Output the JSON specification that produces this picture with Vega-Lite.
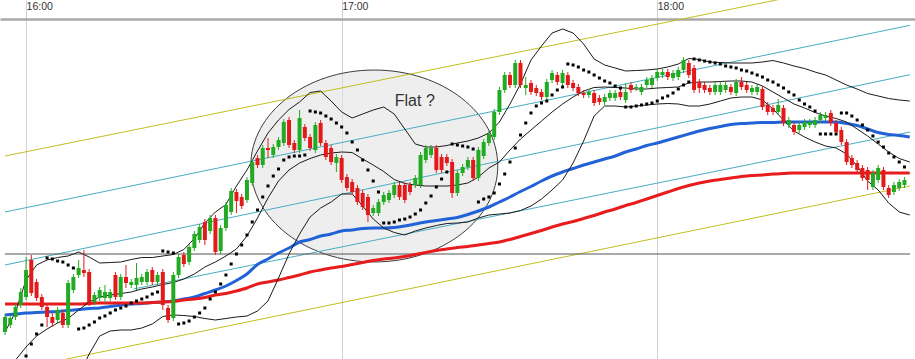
{
  "$schema": "https://vega.github.io/schema/vega-lite/v6.json",
  "width": 915,
  "height": 340,
  "autosize": {"type": "none"},
  "padding": {"left": 0, "top": 19, "right": 0, "bottom": 0},
  "background": "white",
  "config": {"view": {"stroke": null}, "font": "Liberation Sans"},
  "datasets": {
    "candles": [
      {"t":-4,"o":68,"h":86,"l":65,"c":83},
      {"t":-3,"o":75,"h":85,"l":72,"c":82},
      {"t":-2,"o":83,"h":96,"l":80,"c":93},
      {"t":-1,"o":95,"h":112,"l":92,"c":108},
      {"t":0,"o":103,"h":143,"l":100,"c":130,"s":44},
      {"t":1,"o":140,"h":145,"l":104,"c":107,"s":56},
      {"t":2,"o":118,"h":121,"l":99,"c":102,"s":66},
      {"t":3,"o":103,"h":106,"l":90,"c":93,"s":75},
      {"t":4,"o":93,"h":96,"l":73,"c":83,"s":142},
      {"t":5,"o":83,"h":87,"l":73,"c":77,"s":141},
      {"t":6,"o":80,"h":93,"l":77,"c":90,"s":139},
      {"t":7,"o":87,"h":90,"l":72,"c":75,"s":138},
      {"t":8,"o":75,"h":120,"l":72,"c":117,"s":135},
      {"t":9,"o":110,"h":126,"l":107,"c":123,"s":132},
      {"t":10,"o":125,"h":140,"l":122,"c":132,"s":71},
      {"t":11,"o":130,"h":150,"l":123,"c":127,"s":72},
      {"t":12,"o":128,"h":131,"l":94,"c":97,"s":75},
      {"t":13,"o":98,"h":108,"l":95,"c":105,"s":78},
      {"t":14,"o":102,"h":113,"l":99,"c":110,"s":82},
      {"t":15,"o":102,"h":115,"l":97,"c":108,"s":84},
      {"t":16,"o":102,"h":111,"l":99,"c":108,"s":87},
      {"t":17,"o":125,"h":128,"l":100,"c":103,"s":90},
      {"t":18,"o":103,"h":126,"l":100,"c":123,"s":92},
      {"t":19,"o":123,"h":135,"l":112,"c":117,"s":94},
      {"t":20,"o":115,"h":121,"l":112,"c":118,"s":97},
      {"t":21,"o":115,"h":137,"l":110,"c":122,"s":99},
      {"t":22,"o":118,"h":126,"l":115,"c":123,"s":101},
      {"t":23,"o":118,"h":131,"l":115,"c":128,"s":103},
      {"t":24,"o":130,"h":133,"l":115,"c":118,"s":106},
      {"t":25,"o":118,"h":128,"l":115,"c":125,"s":108},
      {"t":26,"o":128,"h":131,"l":90,"c":95,"s":149},
      {"t":27,"o":92,"h":95,"l":77,"c":80,"s":148},
      {"t":28,"o":82,"h":128,"l":79,"c":125,"s":147},
      {"t":29,"o":125,"h":146,"l":122,"c":143,"s":76},
      {"t":30,"o":145,"h":148,"l":133,"c":136,"s":77},
      {"t":31,"o":138,"h":156,"l":135,"c":153,"s":79},
      {"t":32,"o":152,"h":169,"l":149,"c":166,"s":83},
      {"t":33,"o":160,"h":176,"l":157,"c":173,"s":87},
      {"t":34,"o":178,"h":181,"l":155,"c":160,"s":92},
      {"t":35,"o":169,"h":185,"l":166,"c":182,"s":101},
      {"t":36,"o":182,"h":185,"l":145,"c":148,"s":108},
      {"t":37,"o":149,"h":175,"l":146,"c":172,"s":116},
      {"t":38,"o":172,"h":198,"l":169,"c":195,"s":125},
      {"t":39,"o":188,"h":212,"l":185,"c":209,"s":136},
      {"t":40,"o":208,"h":211,"l":187,"c":199,"s":146},
      {"t":41,"o":203,"h":206,"l":191,"c":194,"s":155},
      {"t":42,"o":200,"h":223,"l":197,"c":220,"s":165},
      {"t":43,"o":217,"h":241,"l":214,"c":238,"s":178},
      {"t":44,"o":242,"h":245,"l":232,"c":235,"s":190},
      {"t":45,"o":235,"h":255,"l":232,"c":252,"s":203},
      {"t":46,"o":252,"h":262,"l":242,"c":250,"s":214},
      {"t":47,"o":245,"h":256,"l":242,"c":253,"s":224},
      {"t":48,"o":253,"h":263,"l":250,"c":260,"s":231},
      {"t":49,"o":257,"h":281,"l":254,"c":278,"s":240},
      {"t":50,"o":280,"h":283,"l":252,"c":255,"s":243},
      {"t":51,"o":257,"h":260,"l":247,"c":250,"s":244},
      {"t":52,"o":250,"h":290,"l":247,"c":282,"s":244},
      {"t":53,"o":273,"h":276,"l":259,"c":262,"s":245},
      {"t":54,"o":263,"h":266,"l":249,"c":252,"s":289},
      {"t":55,"o":250,"h":278,"l":247,"c":275,"s":288},
      {"t":56,"o":277,"h":280,"l":254,"c":257,"s":287},
      {"t":57,"o":257,"h":260,"l":240,"c":243,"s":284},
      {"t":58,"o":252,"h":255,"l":235,"c":238,"s":281},
      {"t":59,"o":237,"h":246,"l":228,"c":243,"s":277},
      {"t":60,"o":242,"h":245,"l":217,"c":220,"s":273},
      {"t":61,"o":223,"h":226,"l":209,"c":212,"s":267},
      {"t":62,"o":218,"h":221,"l":205,"c":208,"s":258},
      {"t":63,"o":212,"h":215,"l":195,"c":198,"s":250},
      {"t":64,"o":207,"h":210,"l":190,"c":193,"s":240},
      {"t":65,"o":203,"h":206,"l":178,"c":185,"s":230},
      {"t":66,"o":187,"h":195,"l":184,"c":192,"s":219},
      {"t":67,"o":187,"h":201,"l":184,"c":198,"s":208},
      {"t":68,"o":198,"h":208,"l":195,"c":205,"s":177},
      {"t":69,"o":200,"h":210,"l":197,"c":207,"s":177},
      {"t":70,"o":205,"h":218,"l":202,"c":215,"s":178},
      {"t":71,"o":215,"h":218,"l":200,"c":203,"s":180},
      {"t":72,"o":215,"h":218,"l":197,"c":200,"s":181},
      {"t":73,"o":215,"h":218,"l":205,"c":208,"s":183},
      {"t":74,"o":215,"h":225,"l":212,"c":222,"s":186},
      {"t":75,"o":215,"h":248,"l":212,"c":245,"s":190},
      {"t":76,"o":240,"h":255,"l":237,"c":252,"s":197},
      {"t":77,"o":245,"h":255,"l":242,"c":252,"s":204},
      {"t":78,"o":252,"h":255,"l":227,"c":230,"s":213},
      {"t":79,"o":243,"h":246,"l":227,"c":230,"s":221},
      {"t":80,"o":243,"h":246,"l":234,"c":237,"s":228},
      {"t":81,"o":238,"h":241,"l":202,"c":207,"s":256},
      {"t":82,"o":207,"h":230,"l":204,"c":227,"s":255},
      {"t":83,"o":227,"h":236,"l":224,"c":233,"s":254},
      {"t":84,"o":233,"h":243,"l":230,"c":240,"s":253},
      {"t":85,"o":240,"h":243,"l":219,"c":222,"s":251},
      {"t":86,"o":222,"h":253,"l":219,"c":250,"s":198},
      {"t":87,"o":244,"h":261,"l":241,"c":258,"s":201},
      {"t":88,"o":257,"h":269,"l":254,"c":266,"s":203},
      {"t":89,"o":263,"h":291,"l":260,"c":288,"s":207},
      {"t":90,"o":288,"h":313,"l":285,"c":310,"s":216},
      {"t":91,"o":310,"h":328,"l":307,"c":325,"s":226},
      {"t":92,"o":325,"h":328,"l":312,"c":315,"s":238},
      {"t":93,"o":315,"h":340,"l":312,"c":337,"s":252},
      {"t":94,"o":337,"h":340,"l":312,"c":315,"s":265},
      {"t":95,"o":312,"h":323,"l":305,"c":315,"s":277},
      {"t":96,"o":317,"h":320,"l":305,"c":308,"s":287},
      {"t":97,"o":312,"h":315,"l":304,"c":307,"s":294},
      {"t":98,"o":308,"h":311,"l":300,"c":303,"s":297},
      {"t":99,"o":303,"h":321,"l":300,"c":318,"s":299},
      {"t":100,"o":320,"h":330,"l":317,"c":327,"s":305},
      {"t":101,"o":325,"h":328,"l":315,"c":318,"s":310},
      {"t":102,"o":317,"h":330,"l":314,"c":327,"s":313},
      {"t":103,"o":325,"h":328,"l":312,"c":315,"s":336},
      {"t":104,"o":317,"h":320,"l":309,"c":312,"s":335},
      {"t":105,"o":313,"h":316,"l":304,"c":307,"s":333},
      {"t":106,"o":307,"h":310,"l":302,"c":305,"s":330},
      {"t":107,"o":305,"h":311,"l":302,"c":308,"s":328},
      {"t":108,"o":307,"h":310,"l":294,"c":297,"s":325},
      {"t":109,"o":302,"h":305,"l":295,"c":298,"s":322},
      {"t":110,"o":298,"h":306,"l":295,"c":303,"s":319},
      {"t":111,"o":302,"h":310,"l":299,"c":307,"s":317},
      {"t":112,"o":302,"h":310,"l":299,"c":307,"s":314},
      {"t":113,"o":308,"h":311,"l":300,"c":303,"s":312},
      {"t":114,"o":300,"h":317,"l":297,"c":308,"s":293},
      {"t":115,"o":315,"h":318,"l":307,"c":310,"s":293},
      {"t":116,"o":312,"h":316,"l":309,"c":313,"s":294},
      {"t":117,"o":308,"h":316,"l":305,"c":313,"s":295},
      {"t":118,"o":315,"h":323,"l":312,"c":320,"s":296},
      {"t":119,"o":315,"h":325,"l":312,"c":322,"s":297},
      {"t":120,"o":322,"h":331,"l":319,"c":328,"s":299},
      {"t":121,"o":325,"h":331,"l":322,"c":328,"s":302},
      {"t":122,"o":328,"h":331,"l":320,"c":323,"s":304},
      {"t":123,"o":322,"h":330,"l":319,"c":327,"s":307},
      {"t":124,"o":323,"h":333,"l":320,"c":330,"s":311},
      {"t":125,"o":330,"h":343,"l":327,"c":340,"s":315},
      {"t":126,"o":337,"h":340,"l":322,"c":325,"s":318},
      {"t":127,"o":332,"h":335,"l":307,"c":310,"s":341},
      {"t":128,"o":318,"h":321,"l":307,"c":312,"s":340},
      {"t":129,"o":315,"h":318,"l":307,"c":310,"s":339},
      {"t":130,"o":312,"h":315,"l":305,"c":308,"s":338},
      {"t":131,"o":308,"h":318,"l":305,"c":315,"s":337},
      {"t":132,"o":308,"h":318,"l":305,"c":315,"s":336},
      {"t":133,"o":310,"h":318,"l":307,"c":315,"s":334},
      {"t":134,"o":313,"h":316,"l":305,"c":308,"s":333},
      {"t":135,"o":307,"h":321,"l":304,"c":318,"s":332},
      {"t":136,"o":318,"h":323,"l":310,"c":313,"s":330},
      {"t":137,"o":315,"h":318,"l":307,"c":310,"s":329},
      {"t":138,"o":308,"h":315,"l":305,"c":312,"s":327},
      {"t":139,"o":308,"h":316,"l":305,"c":313,"s":325},
      {"t":140,"o":311,"h":314,"l":290,"c":293,"s":323},
      {"t":141,"o":295,"h":298,"l":285,"c":288,"s":320},
      {"t":142,"o":292,"h":295,"l":285,"c":288,"s":318},
      {"t":143,"o":288,"h":301,"l":285,"c":295,"s":315},
      {"t":144,"o":292,"h":295,"l":274,"c":277,"s":312},
      {"t":145,"o":275,"h":283,"l":272,"c":280,"s":308},
      {"t":146,"o":275,"h":278,"l":265,"c":268,"s":305},
      {"t":147,"o":270,"h":278,"l":267,"c":275,"s":300},
      {"t":148,"o":273,"h":281,"l":270,"c":278,"s":296},
      {"t":149,"o":275,"h":281,"l":272,"c":278,"s":293},
      {"t":150,"o":275,"h":283,"l":272,"c":280,"s":289},
      {"t":151,"o":280,"h":288,"l":277,"c":285,"s":266},
      {"t":152,"o":282,"h":288,"l":279,"c":285,"s":266},
      {"t":153,"o":287,"h":290,"l":274,"c":277,"s":266},
      {"t":154,"o":277,"h":280,"l":265,"c":268,"s":266},
      {"t":155,"o":270,"h":273,"l":255,"c":258,"s":287},
      {"t":156,"o":258,"h":261,"l":235,"c":238,"s":287},
      {"t":157,"o":242,"h":245,"l":232,"c":235,"s":284},
      {"t":158,"o":237,"h":240,"l":227,"c":230,"s":280},
      {"t":159,"o":232,"h":235,"l":219,"c":222,"s":275},
      {"t":160,"o":230,"h":233,"l":210,"c":220,"s":270},
      {"t":161,"o":213,"h":230,"l":210,"c":227,"s":264},
      {"t":162,"o":220,"h":235,"l":217,"c":232,"s":258},
      {"t":163,"o":230,"h":233,"l":210,"c":213,"s":253},
      {"t":164,"o":212,"h":215,"l":202,"c":205,"s":247},
      {"t":165,"o":208,"h":218,"l":205,"c":215,"s":243},
      {"t":166,"o":212,"h":221,"l":209,"c":218,"s":238},
      {"t":167,"o":215,"h":223,"l":212,"c":220,"s":233}
    ],
    "lines": [
      {"t":-4,"u":68,"m":32,"b":85,"r":96},
      {"t":-2,"u":88,"m":40,"b":86,"r":96},
      {"t":0,"u":120,"m":53,"b":87,"r":96},
      {"t":2,"u":135,"m":64,"b":87.5,"r":96},
      {"t":4,"u":140,"m":71,"b":88,"r":96},
      {"t":6,"u":142.5,"m":77,"b":88.5,"r":96},
      {"t":8,"u":144,"m":81.5,"b":89.5,"r":96},
      {"t":10,"u":148,"m":90,"lo":24,"b":90.5,"r":96},
      {"t":12,"u":143,"m":98,"lo":46,"b":91.5,"r":96.5},
      {"t":14,"u":137,"m":103,"lo":64,"b":92,"r":97},
      {"t":16,"u":137.5,"m":105,"lo":69,"b":93.5,"r":97},
      {"t":18,"u":138,"m":106.5,"lo":70,"b":95,"r":97},
      {"t":20,"u":140.5,"m":108,"lo":70,"b":96,"r":97},
      {"t":22,"u":142.5,"m":111,"lo":72,"b":96.5,"r":97},
      {"t":24,"u":142.5,"m":113,"lo":76,"b":97.5,"r":97.5},
      {"t":26,"u":144,"m":115.5,"lo":83.5,"b":98,"r":98},
      {"t":28,"u":145.5,"m":117.5,"lo":85,"b":99,"r":98.5},
      {"t":30,"u":150.5,"m":121,"lo":84.5,"b":101,"r":100},
      {"t":32,"u":161.5,"m":126,"lo":83.5,"b":103,"r":101},
      {"t":34,"u":177,"m":133,"lo":81.5,"b":106.5,"r":102.5},
      {"t":36,"u":188,"m":138,"lo":80,"b":110,"r":105},
      {"t":38,"u":195.5,"m":144,"lo":81.5,"b":114,"r":106.5},
      {"t":40,"u":214,"m":151,"lo":83,"b":119.5,"r":109},
      {"t":42,"u":230,"m":164,"lo":84,"b":126,"r":112},
      {"t":44,"u":249,"m":182,"lo":89,"b":135.5,"r":116},
      {"t":46,"u":267,"m":202,"lo":99,"b":141,"r":118},
      {"t":48,"u":280,"m":219,"lo":122,"b":147,"r":120},
      {"t":50,"u":290.5,"m":230,"lo":146,"b":152,"r":122.5},
      {"t":52,"u":298,"m":237,"lo":166,"b":158,"r":125},
      {"t":54,"u":307.5,"m":241.5,"lo":183,"b":160.5,"r":128},
      {"t":56,"u":309,"m":245,"lo":192,"b":164,"r":130},
      {"t":58,"u":299,"m":247,"lo":198,"b":166,"r":132},
      {"t":60,"u":288,"m":248,"lo":206,"b":169,"r":133.5},
      {"t":62,"u":282,"m":247.5,"lo":206,"b":170,"r":135.5},
      {"t":64,"u":286,"m":241,"lo":194,"b":171.5,"r":137.5},
      {"t":66,"u":290,"m":235,"lo":181,"b":172,"r":139.5},
      {"t":68,"u":293,"m":228.5,"lo":172,"b":172,"r":141},
      {"t":70,"u":286,"m":220.5,"lo":167.5,"b":172.5,"r":142},
      {"t":72,"u":271,"m":216.5,"lo":165,"b":174,"r":143.5},
      {"t":74,"u":256,"m":215,"lo":169,"b":176,"r":145.5},
      {"t":76,"u":253,"m":214,"lo":172,"b":178,"r":147.5},
      {"t":78,"u":253,"m":214,"lo":174.5,"b":179.5,"r":149.5},
      {"t":80,"u":254.5,"m":214,"lo":176.5,"b":181,"r":151},
      {"t":82,"u":257,"m":215,"lo":177,"b":182.5,"r":152.5},
      {"t":84,"u":259,"m":217,"lo":178,"b":185.5,"r":153.5},
      {"t":86,"u":262,"m":223,"lo":182,"b":189,"r":155},
      {"t":88,"u":267,"m":232,"lo":185,"b":193,"r":156.5},
      {"t":90,"u":278,"m":238,"lo":186,"b":198,"r":158},
      {"t":92,"u":296,"m":250,"lo":187,"b":203,"r":160.5},
      {"t":94,"u":316,"m":261,"lo":189.5,"b":208.5,"r":163.5},
      {"t":96,"u":340,"m":270,"lo":194,"b":213.5,"r":166.5},
      {"t":98,"u":354,"m":279,"lo":201,"b":219,"r":169.5},
      {"t":100,"u":367,"m":288,"lo":210,"b":224,"r":173},
      {"t":102,"u":371,"m":296,"lo":220,"b":228,"r":176},
      {"t":104,"u":367,"m":303,"lo":237,"b":231.5,"r":178.5},
      {"t":106,"u":356,"m":309,"lo":259,"b":235,"r":181.5},
      {"t":108,"u":341,"m":312.5,"lo":284,"b":238,"r":184.5},
      {"t":110,"u":335,"m":313,"lo":294,"b":241,"r":188},
      {"t":112,"u":332,"m":312.5,"lo":294,"b":244,"r":191},
      {"t":114,"u":329,"m":312,"lo":293,"b":248,"r":194.5},
      {"t":116,"u":329.5,"m":311,"lo":294,"b":251,"r":197.5},
      {"t":118,"u":330,"m":311,"lo":295,"b":254.5,"r":201},
      {"t":120,"u":331,"m":312,"lo":296,"b":257,"r":204.5},
      {"t":122,"u":333,"m":312.5,"lo":296.5,"b":260,"r":208},
      {"t":124,"u":336,"m":313,"lo":296,"b":263,"r":211.5},
      {"t":126,"u":341.5,"m":317,"lo":294,"b":266,"r":214.5},
      {"t":128,"u":340.5,"m":318,"lo":294,"b":269,"r":217},
      {"t":130,"u":338,"m":318,"lo":296,"b":271.5,"r":219},
      {"t":132,"u":337.5,"m":318.5,"lo":299,"b":273.5,"r":220.5},
      {"t":134,"u":337,"m":319,"lo":302,"b":275.5,"r":222},
      {"t":136,"u":337,"m":319,"lo":303,"b":276.5,"r":223.5},
      {"t":138,"u":337,"m":318,"lo":303,"b":277,"r":224.5},
      {"t":140,"u":338,"m":314,"lo":300,"b":277.5,"r":225},
      {"t":142,"u":339.5,"m":308,"lo":291,"b":277.5,"r":226},
      {"t":144,"u":337,"m":302,"lo":280,"b":278,"r":226.5},
      {"t":146,"u":334,"m":296,"lo":269,"b":278,"r":227},
      {"t":148,"u":331.5,"m":292,"lo":263,"b":278,"r":227},
      {"t":150,"u":328,"m":287.5,"lo":258,"b":278,"r":227},
      {"t":152,"u":325,"m":284,"lo":254,"b":278,"r":227},
      {"t":154,"u":320,"m":281.5,"lo":252,"b":278,"r":227},
      {"t":156,"u":315,"m":278,"lo":246,"b":276.5,"r":227},
      {"t":158,"u":311,"m":271,"lo":234,"b":274.5,"r":227},
      {"t":160,"u":306.5,"m":264,"lo":219,"b":271,"r":227},
      {"t":162,"u":304,"m":256,"lo":210,"b":267.5,"r":227},
      {"t":164,"u":301.5,"m":248,"lo":197,"b":265.5,"r":227},
      {"t":166,"u":300,"m":241.5,"lo":188,"b":264.5,"r":227},
      {"t":168,"u":299,"m":238,"lo":185,"b":263,"r":227}
    ],
    "channels": [
      {"id":"c1","kind":"cyan","t":-4,"p":188},
      {"id":"c1","kind":"cyan","t":168.05,"p":374.7},
      {"id":"c2","kind":"cyan","t":-4,"p":135},
      {"id":"c2","kind":"cyan","t":168.05,"p":325.3},
      {"id":"c3","kind":"cyan","t":20.45,"p":111},
      {"id":"c3","kind":"cyan","t":168.05,"p":268},
      {"id":"y1","kind":"yellow","t":-4,"p":244},
      {"id":"y1","kind":"yellow","t":168.05,"p":427},
      {"id":"y2","kind":"yellow","t":-4,"p":28.3},
      {"id":"y2","kind":"yellow","t":168.05,"p":214}
    ]
  },
  "encoding": {
    "x": {
      "field": "t",
      "type": "quantitative",
      "scale": {"domain": [-4, 168.05], "nice": false, "zero": false},
      "axis": {
        "orient": "top",
        "values": [0, 60, 120],
        "labelExpr": "datum.value == 0 ? '16:00' : datum.value == 60 ? '17:00' : '18:00'",
        "title": null,
        "grid": true,
        "gridColor": "#d0d0d0",
        "gridWidth": 1,
        "ticks": true,
        "tickSize": 19,
        "tickColor": "#d0d0d0",
        "tickWidth": 1,
        "domain": true,
        "domainColor": "#a8a8a8",
        "domainWidth": 2.5,
        "labelAlign": "left",
        "labelBaseline": "alphabetic",
        "labelPadding": -9,
        "labelDx": 7,
        "labelFont": "Liberation Sans",
        "labelFontSize": 10.5,
        "labelColor": "#333333",
        "labelFlush": false,
        "labelOverlap": false
      }
    }
  },
  "layer": [
    {
      "data": {"values": [{"t": 66.2, "p": 234}]},
      "mark": {
        "type": "point",
        "shape": "M-1,0C-1,-0.429,-0.552,-0.777,0,-0.777C0.552,-0.777,1,-0.429,1,0C1,0.429,0.552,0.777,0,0.777C-0.552,0.777,-1,0.429,-1,0Z",
        "size": 61009,
        "filled": true,
        "fill": "#e2e2e2",
        "fillOpacity": 0.6,
        "stroke": "#3c3c3c",
        "strokeWidth": 1,
        "strokeOpacity": 1,
        "opacity": 1
      },
      "encoding": {
        "y": {
          "field": "p",
          "type": "quantitative",
          "scale": {"domain": [41, 381], "nice": false, "zero": false},
          "axis": {
            "values": [51.2, 84.3, 117.5, 150.6, 183.8, 216.9, 250.1, 283.2, 316.4, 349.5],
            "title": null,
            "labels": false,
            "ticks": false,
            "domain": false,
            "grid": true,
            "gridColor": "#d8d8d8",
            "gridWidth": 1
          }
        }
      }
    },
    {
      "data": {"name": "channels"},
      "mark": {"type": "line", "strokeWidth": 1, "clip": false},
      "encoding": {
        "y": {"field": "p", "type": "quantitative", "scale": {"domain": [41, 381], "nice": false, "zero": false}, "axis": null},
        "detail": {"field": "id"},
        "color": {"field": "kind", "type": "nominal", "scale": {"domain": ["cyan", "yellow"], "range": ["#48adc2", "#c3be1e"]}, "legend": null}
      }
    },
    {
      "data": {"values": [{"t": -4, "t2": 168.05, "level": 146}]},
      "mark": {"type": "rule", "color": "#555555", "strokeWidth": 1},
      "encoding": {
        "x2": {"field": "t2"},
        "y": {"field": "level", "type": "quantitative", "scale": {"domain": [41, 381], "nice": false, "zero": false}, "axis": null}
      }
    },
    {
      "data": {"name": "lines"},
      "mark": {"type": "line", "color": "#2162d6", "strokeWidth": 3, "interpolate": "monotone", "clip": true},
      "encoding": {"y": {"field": "b", "type": "quantitative", "scale": {"domain": [41, 381], "nice": false, "zero": false}, "axis": null}}
    },
    {
      "data": {"name": "lines"},
      "mark": {"type": "line", "color": "#e81c1c", "strokeWidth": 3, "interpolate": "monotone", "clip": true},
      "encoding": {"y": {"field": "r", "type": "quantitative", "scale": {"domain": [41, 381], "nice": false, "zero": false}, "axis": null}}
    },
    {
      "data": {"name": "lines"},
      "mark": {"type": "line", "color": "#1a1a1a", "strokeWidth": 1, "clip": true},
      "encoding": {"y": {"field": "u", "type": "quantitative", "scale": {"domain": [41, 381], "nice": false, "zero": false}, "axis": null}}
    },
    {
      "data": {"name": "lines"},
      "mark": {"type": "line", "color": "#1a1a1a", "strokeWidth": 1, "clip": true},
      "encoding": {"y": {"field": "m", "type": "quantitative", "scale": {"domain": [41, 381], "nice": false, "zero": false}, "axis": null}}
    },
    {
      "data": {"name": "lines"},
      "mark": {"type": "line", "color": "#1a1a1a", "strokeWidth": 1, "clip": true},
      "encoding": {"y": {"field": "lo", "type": "quantitative", "scale": {"domain": [41, 381], "nice": false, "zero": false}, "axis": null}}
    },
    {
      "data": {"name": "candles"},
      "mark": {"type": "rule", "strokeWidth": 1},
      "encoding": {
        "y": {"field": "l", "type": "quantitative", "scale": {"domain": [41, 381], "nice": false, "zero": false}, "axis": null},
        "y2": {"field": "h"},
        "color": {"condition": {"test": "datum.c >= datum.o", "value": "#22aa22"}, "value": "#e31a1c"}
      }
    },
    {
      "data": {"name": "candles"},
      "mark": {"type": "bar", "size": 4},
      "encoding": {
        "y": {"field": "o", "type": "quantitative", "scale": {"domain": [41, 381], "nice": false, "zero": false}, "axis": null},
        "y2": {"field": "c"},
        "color": {"condition": {"test": "datum.c >= datum.o", "value": "#22aa22"}, "value": "#e31a1c"}
      }
    },
    {
      "data": {"name": "candles"},
      "mark": {"type": "square", "size": 9, "color": "#000000", "opacity": 1},
      "encoding": {"y": {"field": "s", "type": "quantitative", "scale": {"domain": [41, 381], "nice": false, "zero": false}, "axis": null}}
    },
    {
      "data": {"values": [{"t": 73.9, "p": 299, "label": "Flat ?"}]},
      "mark": {"type": "text", "font": "Liberation Sans", "fontSize": 16, "color": "#333333", "align": "center", "baseline": "middle"},
      "encoding": {
        "y": {"field": "p", "type": "quantitative", "scale": {"domain": [41, 381], "nice": false, "zero": false}, "axis": null},
        "text": {"field": "label"}
      }
    }
  ]
}
